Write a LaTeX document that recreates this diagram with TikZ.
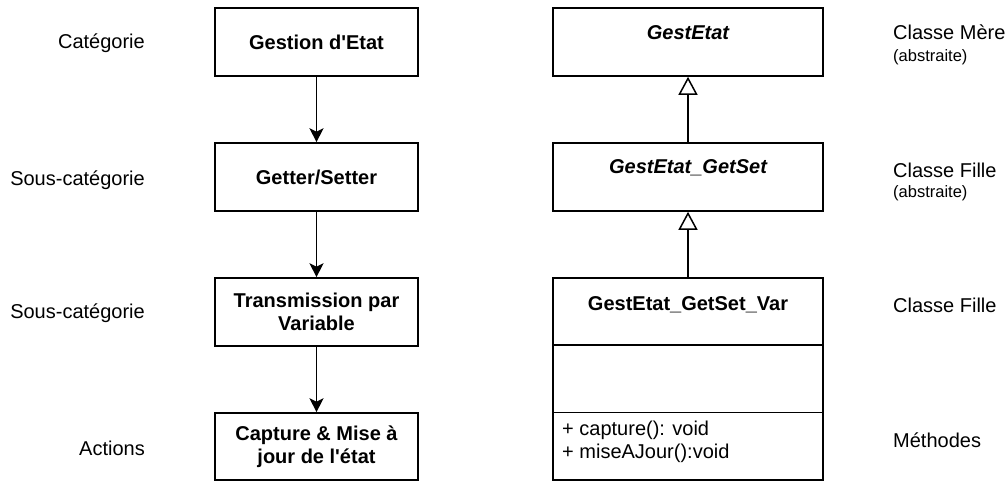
\documentclass[tikz,border=0pt]{standalone}
\usepackage{fontspec}
\setmainfont{Liberation Sans}
\usetikzlibrary{arrows.meta,positioning,calc}

\begin{document}
\begin{tikzpicture}[x=1pt, y=-1pt,
      box/.style={draw=black, line width=1.6pt, fill=white,
                  minimum width=203pt, minimum height=68pt, inner sep=2pt,
                  align=center, font=\fontsize{20}{23}\selectfont\bfseries},
      cls/.style={draw=black, line width=1.6pt, fill=white,
                  minimum width=270pt, minimum height=68pt, inner sep=0pt},
      clsname/.style={font=\fontsize{20}{23}\selectfont\bfseries},
      lbl/.style={font=\fontsize{20}{23}\selectfont, inner sep=0pt},
      note/.style={font=\fontsize{16.5}{19}\selectfont, inner sep=0pt},
      flow/.style={-{Stealth[length=14pt, width=14pt, inset=3.5pt]},
                   line width=1.8pt},
      inherit/.style={-{Triangle[open, length=18pt, width=19pt, fill=white]},
                      line width=1.5pt}]

    \useasboundingbox (0,0) rectangle (1007,481);

    % left column
    \node[box] (etat)   at (316.5,42)  {Gestion d\textquotesingle Etat};
    \node[box] (getset) at (316.5,177) {Getter/Setter};
    \node[box] (transm) at (316.5,312) {Transmission par\\Variable};
    \node[box, minimum height=67pt] (action) at (316.5,446.5)
      {Capture \& Mise à\\jour de l\textquotesingle état};

    \draw[flow] (etat) -- (getset);
    \draw[flow] (getset) -- (transm);
    \draw[flow] (transm) -- (action);

    \node[lbl, anchor=east] (catA) at (145,43)  {Catégorie};
    \node[lbl, anchor=east] (catB) at (145,180) {Sous-catégorie};
    \node[lbl, anchor=east] (catC) at (145,313) {Sous-catégorie};
    \node[lbl, anchor=east] (catD) at (145,448) {Actions};

    % right column
    \node[cls] (gest)    at (688,42)  {};
    \node[cls] (gestgs)  at (688,177) {};
    \node[cls, minimum height=202pt] (gestvar) at (688,379) {};

    \node[clsname] (nGest)   at (688,33)  {\itshape GestEtat};
    \node[clsname] (nGestgs) at (688,168) {\itshape GestEtat\_GetSet};
    \node[clsname] (nGestvar) at (688,305) {GestEtat\_GetSet\_Var};

    \draw[line width=1.6pt] ($(gestvar.north west)+(0,68)$)
      -- ($(gestvar.north east)+(0,68)$);
    \draw[line width=1.2pt] ($(gestvar.north west)+(0,135)$)
      -- ($(gestvar.north east)+(0,135)$);

    \node[lbl, anchor=west, align=left] (meth) at (562,441.5)
      {+ capture(): void\\+ miseAJour():void};

    \draw[inherit] (gestgs) -- (gest);
    \draw[inherit] (gestvar) -- (gestgs);

    \node[lbl, anchor=west]  (roleA) at (893,32)  {Classe Mère};
    \node[note, anchor=west] (absA)  at (893,57)  {(abstraite)};
    \node[lbl, anchor=west]  (roleB) at (893,170) {Classe Fille};
    \node[note, anchor=west] (absB)  at (893,193) {(abstraite)};
    \node[lbl, anchor=west]  (roleC) at (893,305) {Classe Fille};
    \node[lbl, anchor=west]  (roleD) at (893,440) {Méthodes};
  \end{tikzpicture}
\end{document}
